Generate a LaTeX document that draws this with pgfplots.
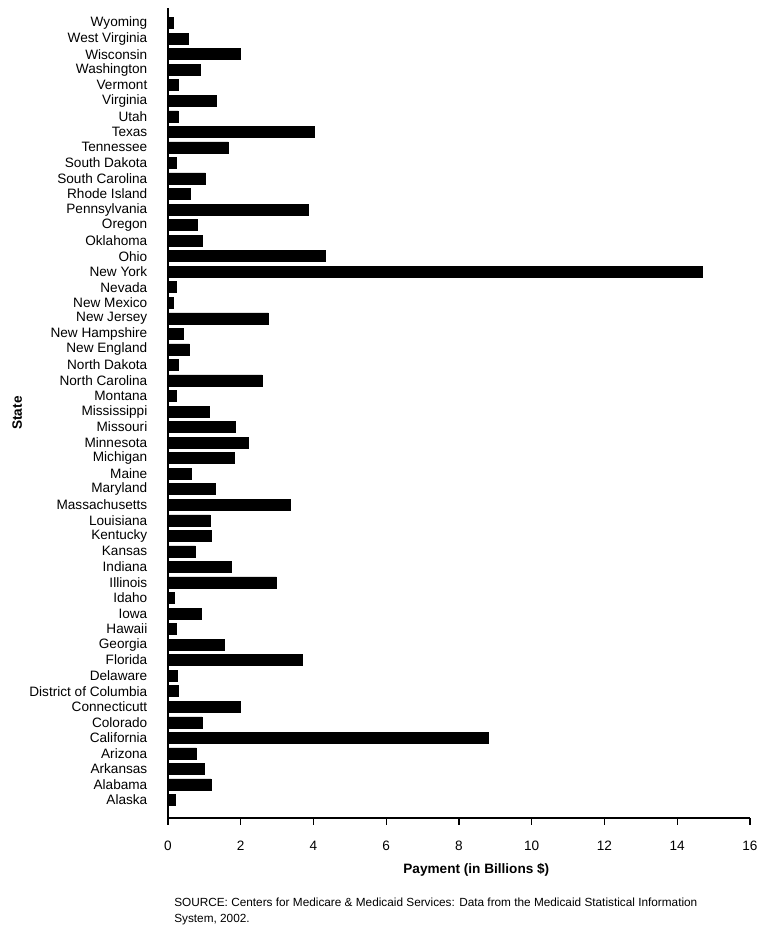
\documentclass[border=0pt]{standalone}
\usepackage{fontspec}
\setmainfont{Liberation Sans}
\usepackage{pgfplots}
\usepackage{pgfplotstable}
\pgfplotsset{compat=1.18}

% states from bottom (Alaska) to top (Wyoming), payment in billions
\pgfplotstableread[col sep=comma]{
idx,state,pay
0,Alaska,0.19
1,Alabama,1.18
2,Arkansas,1.00
3,Arizona,0.78
4,California,8.81
5,Colorado,0.94
6,Connecticutt,2.00
7,District of Columbia,0.28
8,Delaware,0.26
9,Florida,3.70
10,Georgia,1.55
11,Hawaii,0.23
12,Iowa,0.91
13,Idaho,0.17
14,Illinois,2.98
15,Indiana,1.74
16,Kansas,0.75
17,Kentucky,1.18
18,Louisiana,1.16
19,Massachusetts,3.35
20,Maryland,1.31
21,Maine,0.65
22,Michigan,1.82
23,Minnesota,2.21
24,Missouri,1.85
25,Mississippi,1.13
26,Montana,0.22
27,North Carolina,2.59
28,North Dakota,0.27
29,New England,0.59
30,New Hampshire,0.41
31,New Jersey,2.76
32,New Mexico,0.14
33,Nevada,0.23
34,New York,14.70
35,Ohio,4.31
36,Oklahoma,0.95
37,Oregon,0.80
38,Pennsylvania,3.85
39,Rhode Island,0.60
40,South Carolina,1.03
41,South Dakota,0.23
42,Tennessee,1.66
43,Texas,4.01
44,Utah,0.28
45,Virginia,1.34
46,Vermont,0.27
47,Washington,0.89
48,Wisconsin,1.98
49,West Virginia,0.57
50,Wyoming,0.14
}\payments

\begin{document}
\begin{tikzpicture}[font=\fontsize{10.2}{12}\selectfont]
\useasboundingbox (-126pt,-81pt) rectangle (447pt,613.5pt);
\begin{axis}[
    at={(0,0)}, anchor=south west,
    scale only axis,
    width=436.5pt, height=607.5pt,
    xbar, bar width=8.25pt, bar shift=0pt,
    axis lines*=left,
    axis line style={line width=0.8pt},
    xmin=0, xmax=16,
    ymin=-1.16, ymax=50.97,
    xtick={0,2,...,16},
    tick align=outside,
    major tick length=5pt,
    xtick style={line width=0.8pt, black},
    ytick=data,
    yticklabels from table={\payments}{state},
    ytick style={draw=none},
    yticklabel style={xshift=-7pt},
    xticklabel style={yshift=-9pt},
    /pgf/number format/assume math mode=true,
    xlabel={\textbf{Payment (in Billions \$)}},
    xlabel style={at={(axis description cs:0.5,-0.0642)}, anchor=center, xshift=13pt},
    ylabel={\textbf{State}},
    ylabel style={at={(axis description cs:-0.259,0.5)}, anchor=center},
]
\addplot[fill=black, draw=black] table[x=pay, y=idx] {\payments};
\end{axis}
\node[anchor=north west, align=left, font=\fontsize{8.85}{12}\selectfont, inner sep=0pt]
  at (4.5pt,-60pt) {SOURCE: Centers for Medicare \& Medicaid Services: Data from the Medicaid Statistical Information\\System, 2002.};
\end{tikzpicture}
\end{document}
